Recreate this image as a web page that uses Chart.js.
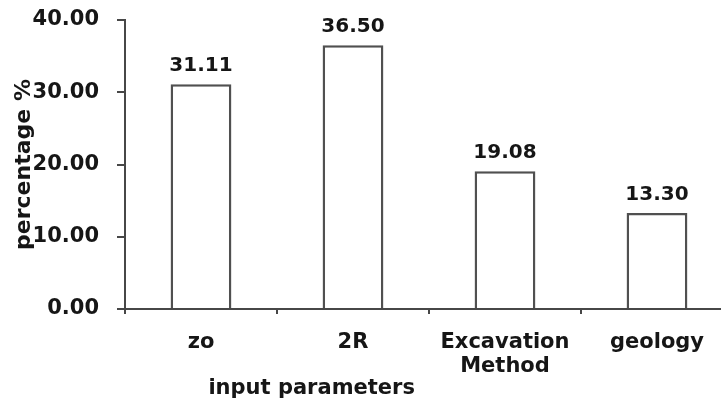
<!DOCTYPE html>
<html>
<head>
<meta charset="utf-8">
<script src="https://cdn.jsdelivr.net/npm/chart.js@4"></script>
<style>
  html, body { margin: 0; padding: 0; background: #fff; overflow: hidden; }
  #wrap { width: 735px; height: 402px; }
</style>
</head>
<body>
<div id="wrap"><canvas id="chart"></canvas></div>
<script>
// Chart data
const categories = [['zo'], ['2R'], ['Excavation', 'Method'], ['geology']];
const percentages = [31.11, 36.50, 19.08, 13.30];
const yTicks = [0, 10, 20, 30, 40];

const FONT = 'DejaVu Sans';
const TEXT = '#161616';
const AXIS = '#474747';

// Value labels above the bars
const valueLabels = {
    id: 'valueLabels',
    afterDatasetsDraw(chart) {
        const ctx = chart.ctx;
        const meta = chart.getDatasetMeta(0);
        ctx.save();
        ctx.font = 'bold 20px "' + FONT + '"';
        ctx.fillStyle = TEXT;
        ctx.textAlign = 'center';
        ctx.textBaseline = 'alphabetic';
        meta.data.forEach((bar, i) => {
            ctx.fillText(percentages[i].toFixed(2), bar.x, bar.y - 13);
        });
        ctx.restore();
    }
};

// x axis title, sits left of centre like in the original
const xTitle = {
    id: 'xTitle',
    afterDraw(chart) {
        const x = chart.scales.x;
        const ctx = chart.ctx;
        ctx.save();
        ctx.font = 'bold 21px "' + FONT + '"';
        ctx.fillStyle = TEXT;
        ctx.textAlign = 'center';
        ctx.textBaseline = 'alphabetic';
        ctx.fillText('input parameters', x.left + (x.right - x.left) * 0.307, x.bottom - 8);
        ctx.restore();
    }
};

new Chart(document.getElementById('chart'), {
    type: 'bar',
    data: {
        labels: categories,
        datasets: [{
            data: percentages,
            backgroundColor: '#ffffff',
            borderColor: '#505050',
            borderWidth: 2.5,
            categoryPercentage: 1,
            barPercentage: 0.4
        }]
    },
    options: {
        responsive: true,
        maintainAspectRatio: false,
        animation: false,
        layout: { padding: { top: 20, right: 2, bottom: 0, left: 0 } },
        plugins: {
            legend: { display: false },
            tooltip: { enabled: false }
        },
        scales: {
            x: {
                afterFit(s) { s.height = 93; },
                border: { display: true, color: AXIS, width: 2 },
                grid: { drawOnChartArea: false, drawTicks: true, tickLength: 5, color: AXIS, lineWidth: 2 },
                ticks: {
                    color: TEXT,
                    padding: 17,
                    maxRotation: 0,
                    autoSkip: false,
                    font: { family: FONT, weight: 'bold', size: 21, lineHeight: 1.12 }
                }
            },
            y: {
                min: 0,
                max: 40,
                afterFit(s) { s.width = 125; s.paddingTop = 12; s.paddingBottom = 12; },
                afterBuildTicks(s) { s.ticks = yTicks.map(v => ({ value: v })); },
                border: { display: true, color: AXIS, width: 2 },
                grid: { drawOnChartArea: false, drawTicks: true, tickLength: 8, color: AXIS, lineWidth: 2 },
                ticks: {
                    color: TEXT,
                    padding: 18,
                    font: { family: FONT, weight: 'bold', size: 21 },
                    callback: v => Number(v).toFixed(2)
                },
                title: {
                    display: true,
                    text: 'percentage %',
                    color: TEXT,
                    padding: { top: 11, bottom: 0 },
                    font: { family: FONT, weight: 'bold', size: 22, lineHeight: 1.2 }
                }
            }
        }
    },
    plugins: [valueLabels, xTitle]
});
</script>
</body>
</html>
